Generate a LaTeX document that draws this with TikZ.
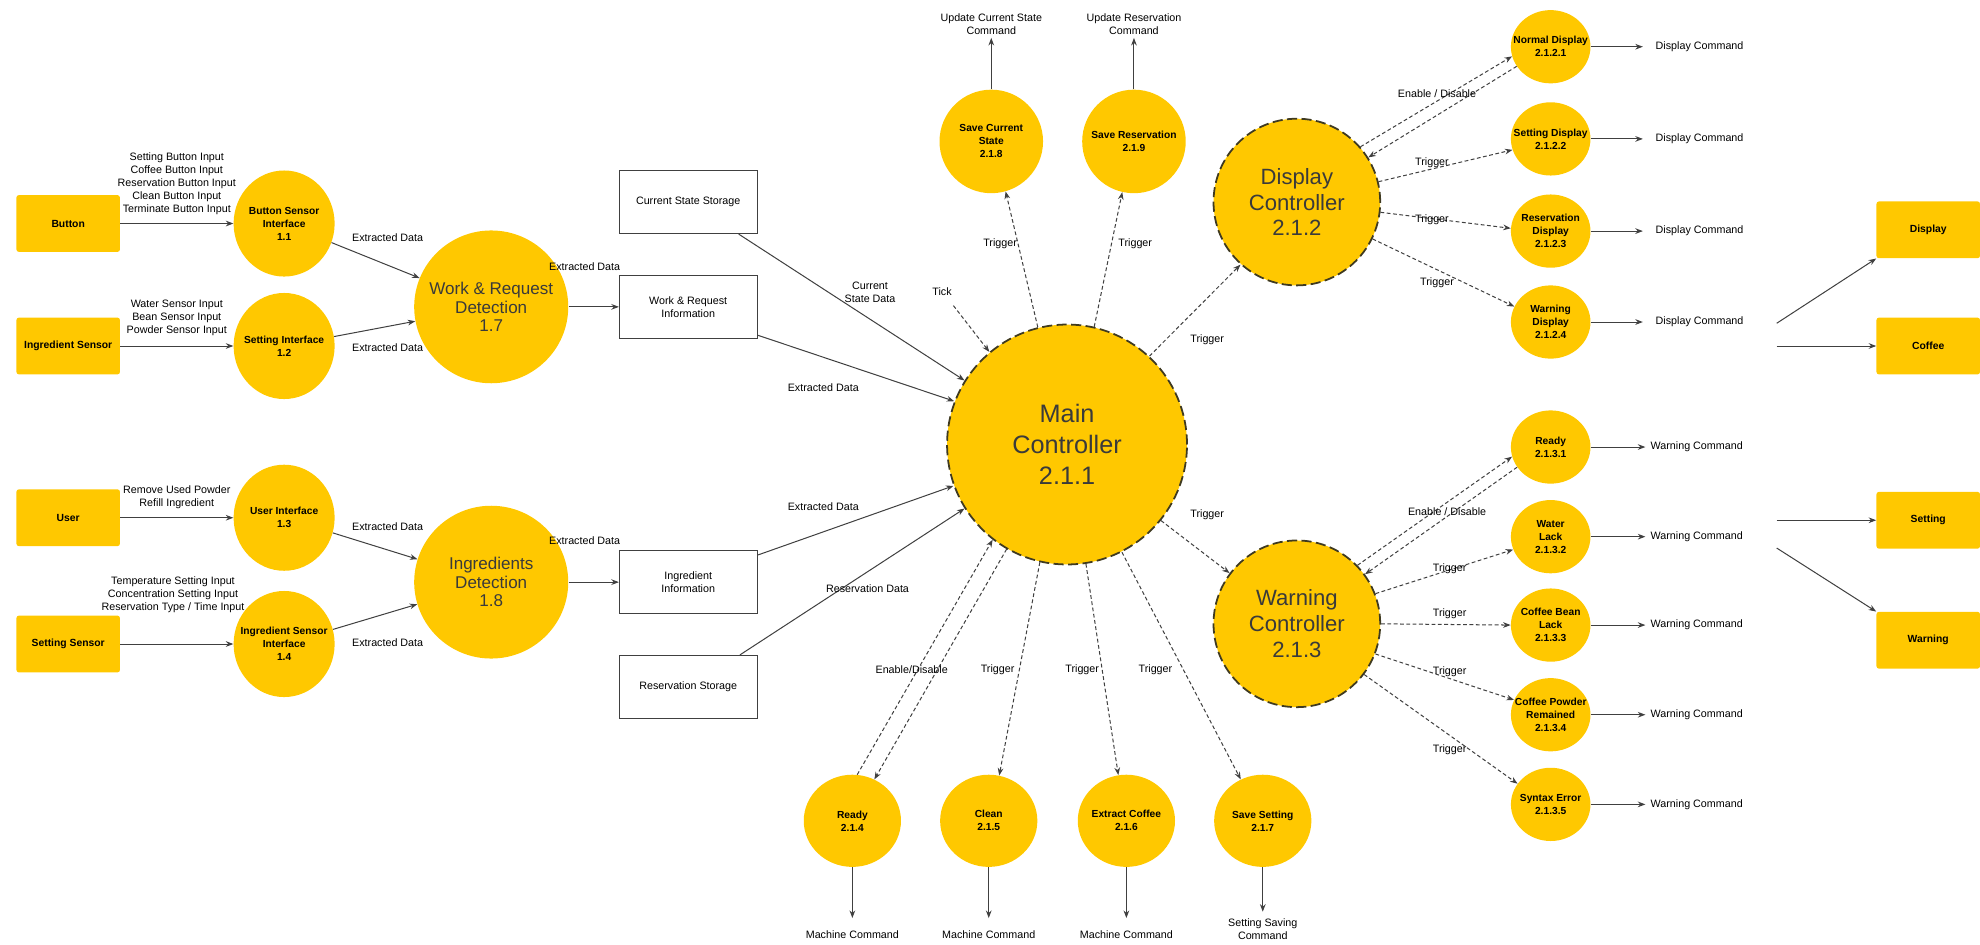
\documentclass[tikz,border=0pt]{standalone}
\usepackage{fontspec}
\setmainfont{Liberation Sans}
\usetikzlibrary{arrows.meta,shapes.geometric}
\definecolor{gold}{HTML}{FFC800}
\definecolor{edgec}{HTML}{404040}
\definecolor{ringc}{HTML}{3F3A20}
\definecolor{bigtxt}{HTML}{3A3A3A}
\begin{document}
\begin{tikzpicture}[x=1pt,y=1pt,
  ext/.style={fill=gold, rounded corners=2pt, minimum width=82pt, minimum height=45pt, inner sep=0pt, font=\bfseries\fontsize{8.2}{10.3}\selectfont},
  store/.style={draw=edgec, line width=0.8pt, fill=white, minimum width=109pt, minimum height=50pt, align=center, inner sep=0pt, font=\fontsize{8.5}{10.3}\selectfont},
  proc/.style={ellipse, fill=gold, inner sep=0pt},
  ptxt/.style={align=center, inner sep=0pt, font=\bfseries\fontsize{8.1}{10.3}\selectfont},
  ctrl/.style={circle, fill=gold, draw=ringc, line width=1.4pt, dash pattern=on 8pt off 3.5pt, inner sep=0pt},
  bigt/.style={align=center, inner sep=0pt, text=bigtxt},
  lbl/.style={align=center, inner sep=1pt, font=\fontsize{8.5}{10.3}\selectfont},
  flow/.style={draw=edgec, line width=0.8pt, -{Stealth[length=6pt,width=4.5pt]}},
  trig/.style={flow, dash pattern=on 3pt off 2pt}
]
\useasboundingbox (0,0) rectangle (1568,-748);

% external entities
\node[ext] (btn) at (54,-177) {Button};
\node[ext] (ingsen) at (54,-274) {Ingredient Sensor};
\node[ext] (usr) at (54,-410) {User};
\node[ext] (setsen) at (54,-510) {Setting Sensor};
\node[ext] (extdisp) at (1527,-182) {Display};
\node[ext] (extcof) at (1527,-274) {Coffee};
\node[ext] (extset) at (1527,-412) {Setting};
\node[ext] (extwarn) at (1527,-507) {Warning};

% level 1 processes
\node[proc, minimum width=80pt, minimum height=84pt, label={[ptxt]center:{Button Sensor\\Interface\\1.1}}] (p11) at (225,-177) {};
\node[proc, minimum width=80pt, minimum height=84pt, label={[ptxt]center:{Setting Interface\\1.2}}] (p12) at (225,-274) {};
\node[proc, minimum width=80pt, minimum height=84pt, label={[ptxt]center:{User Interface\\1.3}}] (p13) at (225,-410) {};
\node[proc, minimum width=80pt, minimum height=84pt, label={[ptxt]center:{Ingredient Sensor\\Interface\\1.4}}] (p14) at (225,-510) {};
\node[proc, minimum width=122pt, minimum height=121pt, label={[bigt, font=\fontsize{13.5}{14.8}\selectfont]center:{Work \& Request\\Detection\\1.7}}] (p17) at (389,-243) {};
\node[proc, minimum width=122pt, minimum height=121pt, label={[bigt, font=\fontsize{13.5}{14.8}\selectfont]center:{Ingredients\\Detection\\1.8}}] (p18) at (389,-461) {};

% stores
\node[store] (css) at (545,-160) {Current State Storage};
\node[store] (wri) at (545,-243) {Work \& Request\\Information};
\node[store] (ii) at (545,-461) {Ingredient\\Information};
\node[store] (rs) at (545,-544) {Reservation Storage};

% controllers
\node[ctrl, minimum size=190pt, label={[bigt, font=\fontsize{20}{24.5}\selectfont]center:{Main\\Controller\\2.1.1}}] (mc) at (845,-352) {};
\node[ctrl, minimum size=132pt, label={[bigt, font=\fontsize{17.5}{20.5}\selectfont]center:{Display\\Controller\\2.1.2}}] (dc) at (1027,-160) {};
\node[ctrl, minimum size=132pt, label={[bigt, font=\fontsize{17.5}{20.5}\selectfont]center:{Warning\\Controller\\2.1.3}}] (wc) at (1027,-494) {};

% top processes
\node[proc, minimum width=82pt, minimum height=82pt, label={[ptxt]center:{Save Current\\State\\2.1.8}}] (s218) at (785,-112) {};
\node[proc, minimum width=82pt, minimum height=82pt, label={[ptxt]center:{Save Reservation\\2.1.9}}] (s219) at (898,-112) {};

% bottom processes
\node[proc, minimum width=77pt, minimum height=73pt, label={[ptxt]center:{Ready\\2.1.4}}] (r214) at (675,-650) {};
\node[proc, minimum width=77pt, minimum height=73pt, label={[ptxt]center:{Clean\\2.1.5}}] (r215) at (783,-650) {};
\node[proc, minimum width=77pt, minimum height=73pt, label={[ptxt]center:{Extract Coffee\\2.1.6}}] (r216) at (892,-650) {};
\node[proc, minimum width=77pt, minimum height=73pt, label={[ptxt]center:{Save Setting\\2.1.7}}] (r217) at (1000,-650) {};

% display sub processes
\node[proc, minimum width=63pt, minimum height=58pt, label={[ptxt]center:{Normal Display\\2.1.2.1}}] (d1) at (1228,-37) {};
\node[proc, minimum width=63pt, minimum height=58pt, label={[ptxt]center:{Setting Display\\2.1.2.2}}] (d2) at (1228,-110) {};
\node[proc, minimum width=63pt, minimum height=58pt, label={[ptxt]center:{Reservation\\Display\\2.1.2.3}}] (d3) at (1228,-183) {};
\node[proc, minimum width=63pt, minimum height=58pt, label={[ptxt]center:{Warning\\Display\\2.1.2.4}}] (d4) at (1228,-255) {};

% warning sub processes
\node[proc, minimum width=63pt, minimum height=58pt, label={[ptxt]center:{Ready\\2.1.3.1}}] (w1) at (1228,-354) {};
\node[proc, minimum width=63pt, minimum height=58pt, label={[ptxt]center:{Water\\Lack\\2.1.3.2}}] (w2) at (1228,-425) {};
\node[proc, minimum width=63pt, minimum height=58pt, label={[ptxt]center:{Coffee Bean\\Lack\\2.1.3.3}}] (w3) at (1228,-495) {};
\node[proc, minimum width=63pt, minimum height=58pt, label={[ptxt]center:{Coffee Powder\\Remained\\2.1.3.4}}] (w4) at (1228,-566) {};
\node[proc, minimum width=63pt, minimum height=58pt, label={[ptxt]center:{Syntax Error\\2.1.3.5}}] (w5) at (1228,-637) {};

% free ends
\coordinate (tick) at (755,-242);
\coordinate (up1) at (785,-30);
\coordinate (up2) at (898,-30);
\coordinate (dn1) at (675,-727);
\coordinate (dn2) at (783,-727);
\coordinate (dn3) at (892,-727);
\coordinate (dn4) at (1000,-722);
\coordinate (do1) at (1301,-37);
\coordinate (do2) at (1301,-110);
\coordinate (do3) at (1301,-183);
\coordinate (do4) at (1301,-255);
\coordinate (wo1) at (1303,-354);
\coordinate (wo2) at (1303,-425);
\coordinate (wo3) at (1303,-495);
\coordinate (wo4) at (1303,-566);
\coordinate (wo5) at (1303,-637);
\coordinate (rdsp) at (1407,-256);
\coordinate (rcof) at (1407,-274);
\coordinate (rset) at (1407,-412);
\coordinate (rwrn) at (1407,-434);

% left flows
\draw[flow] (btn) -- (p11);
\draw[flow] (ingsen) -- (p12);
\draw[flow] (usr) -- (p13);
\draw[flow] (setsen) -- (p14);
\draw[flow] (p11) -- (p17);
\draw[flow] (p12) -- (p17);
\draw[flow] (p13) -- (p18);
\draw[flow] (p14) -- (p18);
\draw[flow] (p17) -- (wri);
\draw[flow] (p18) -- (ii);

% into main
\draw[flow] ([xshift=40pt]css.south) -- (mc.148);
\draw[flow] ([yshift=3pt]wri.south east) -- (mc.159);
\draw[flow] ([yshift=-4pt]ii.north east) -- (mc.200);
\draw[flow] ([xshift=41pt]rs.north) -- (mc.212);
\draw[trig] (tick) -- (mc.130);

% main outgoing
\draw[trig] (mc.104) -- (s218.286);
\draw[trig] (mc.77) -- (s219.257);
\draw[flow] (s218) -- (up1);
\draw[flow] (s219) -- (up2);
\draw[trig] (mc.47) -- (dc.228);
\draw[trig] (mc.321) -- (wc.143);
\draw[trig] (r214.84) -- (mc.232);
\draw[trig] (mc.240) -- (r214.62);
\draw[trig] (mc.257) -- (r215.77);
\draw[trig] (mc.279) -- (r216.100);
\draw[trig] (mc.297) -- (r217.118);
\draw[flow] (r214) -- (dn1);
\draw[flow] (r215) -- (dn2);
\draw[flow] (r216) -- (dn3);
\draw[flow] (r217) -- (dn4);

% display controller
\draw[trig] (dc.41) -- (d1.194);
\draw[trig] (d1.210) -- (dc.32);
\draw[trig] (dc.14) -- (d2.196);
\draw[trig] (dc.353) -- (d3.176);
\draw[trig] (dc.334) -- (d4.157);
\draw[flow] (d1.east) -- (do1);
\draw[flow] (d2.east) -- (do2);
\draw[flow] (d3.east) -- (do3);
\draw[flow] (d4.east) -- (do4);

% warning controller
\draw[trig] (wc.44) -- (w1.194);
\draw[trig] (w1.211) -- (wc.36);
\draw[trig] (wc.21) -- (w2.199);
\draw[trig] (wc.0) -- (w3.180);
\draw[trig] (wc.339) -- (w4.158);
\draw[trig] (wc.323) -- (w5.148);
\draw[flow] (w1.east) -- (wo1);
\draw[flow] (w2.east) -- (wo2);
\draw[flow] (w3.east) -- (wo3);
\draw[flow] (w4.east) -- (wo4);
\draw[flow] (w5.east) -- (wo5);

% right side
\draw[flow] (rdsp) -- (extdisp.south west);
\draw[flow] (rcof) -- (extcof.west);
\draw[flow] (rset) -- (extset.west);
\draw[flow] (rwrn) -- (extwarn.north west);

% labels
\node[lbl] (l01) at (140,-145.5) {Setting Button Input\\Coffee Button Input\\Reservation Button Input\\Clean Button Input\\Terminate Button Input};
\node[lbl] (l02) at (140,-252) {Water Sensor Input\\Bean Sensor Input\\Powder Sensor Input};
\node[lbl] (l03) at (140,-393.5) {Remove Used Powder\\Refill Ingredient};
\node[lbl] (l04) at (137,-471) {Temperature Setting Input\\Concentration Setting Input\\Reservation Type / Time Input};
\node[lbl] (l05) at (307,-188) {Extracted Data};
\node[lbl] (l06) at (307,-275) {Extracted Data};
\node[lbl] (l07) at (307,-417) {Extracted Data};
\node[lbl] (l08) at (307,-509) {Extracted Data};
\node[lbl] (l09) at (463,-211) {Extracted Data};
\node[lbl] (l10) at (463,-428) {Extracted Data};
\node[lbl] (l11) at (689,-231.5) {Current\\State Data};
\node[lbl] (l12) at (652,-307) {Extracted Data};
\node[lbl] (l13) at (652,-401) {Extracted Data};
\node[lbl] (l14) at (687,-466) {Reservation Data};
\node[lbl] (l15) at (746,-231) {Tick};
\node[lbl] (l16) at (792,-193) {Trigger};
\node[lbl] (l17) at (899,-193) {Trigger};
\node[lbl] (l18) at (785,-19) {Update Current State\\Command};
\node[lbl] (l19) at (898,-19) {Update Reservation\\Command};
\node[lbl] (l20) at (956,-269) {Trigger};
\node[lbl] (l21) at (956,-408) {Trigger};
\node[lbl] (l22) at (722,-530) {Enable/Disable};
\node[lbl] (l23) at (790,-530) {Trigger};
\node[lbl] (l24) at (857,-530) {Trigger};
\node[lbl] (l25) at (915,-530) {Trigger};
\node[lbl] (l26) at (675,-740) {Machine Command};
\node[lbl] (l27) at (783,-740) {Machine Command};
\node[lbl] (l28) at (892,-740) {Machine Command};
\node[lbl] (l29) at (1000,-735.5) {Setting Saving\\Command};
\node[lbl] (l30) at (1138,-74) {Enable / Disable};
\node[lbl] (l31) at (1134,-129) {Trigger};
\node[lbl] (l32) at (1134,-174) {Trigger};
\node[lbl] (l33) at (1138,-224) {Trigger};
\node[lbl] (l34) at (1146,-405) {Enable / Disable};
\node[lbl] (l35) at (1148,-450) {Trigger};
\node[lbl] (l36) at (1148,-486) {Trigger};
\node[lbl] (l37) at (1148,-532) {Trigger};
\node[lbl] (l38) at (1148,-594) {Trigger};
\node[lbl, anchor=west] (l39) at (1310,-37) {Display Command};
\node[lbl, anchor=west] (l40) at (1310,-110) {Display Command};
\node[lbl, anchor=west] (l41) at (1310,-183) {Display Command};
\node[lbl, anchor=west] (l42) at (1310,-255) {Display Command};
\node[lbl, anchor=west] (l43) at (1306,-354) {Warning Command};
\node[lbl, anchor=west] (l44) at (1306,-425) {Warning Command};
\node[lbl, anchor=west] (l45) at (1306,-495) {Warning Command};
\node[lbl, anchor=west] (l46) at (1306,-566) {Warning Command};
\node[lbl, anchor=west] (l47) at (1306,-637) {Warning Command};
\end{tikzpicture}
\end{document}
